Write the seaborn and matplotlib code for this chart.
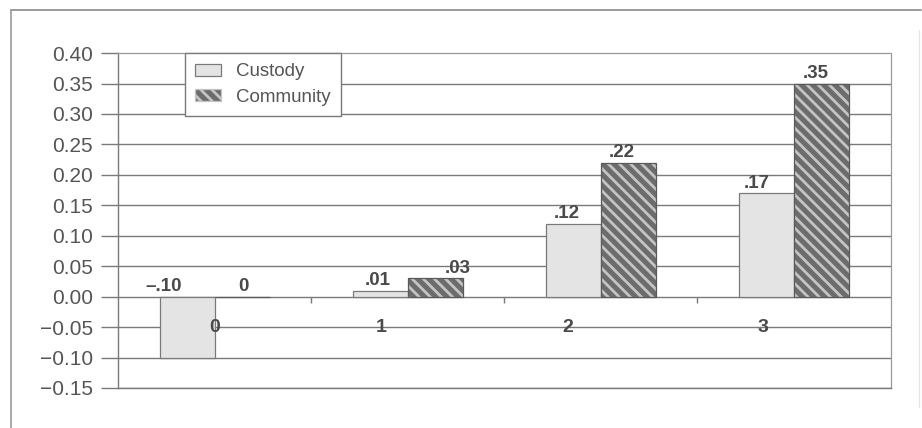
import numpy as np
import pandas as pd
import matplotlib
matplotlib.use("Agg")
import matplotlib.pyplot as plt
import seaborn as sns
from matplotlib.patches import Patch, Rectangle
from matplotlib.lines import Line2D

# ---- data ----
categories = ["0", "1", "2", "3"]
groups = ["Custody", "Community"]
custody = [-0.10, 0.01, 0.12, 0.17]
community = [0.00, 0.03, 0.22, 0.35]
ytick_values = [-0.15, -0.10, -0.05, 0.00, 0.05, 0.10, 0.15, 0.20, 0.25, 0.30, 0.35, 0.40]
ytick_labels = ["\u22120.15", "\u22120.10", "\u22120.05", "0.00", "0.05", "0.10",
                "0.15", "0.20", "0.25", "0.30", "0.35", "0.40"]

df = pd.DataFrame({
    "category": categories * 2,
    "group": [groups[0]] * len(categories) + [groups[1]] * len(categories),
    "value": custody + community,
})

# ---- style ----
sns.set_theme(style="white")
plt.rcParams["font.family"] = ["Liberation Sans", "DejaVu Sans"]
plt.rcParams["hatch.linewidth"] = 2.0

TEXT = "#4a4a4a"
LINE = "#7a7a7a"
CUSTODY_FACE = "#e4e4e4"
COMMUNITY_FACE = "#6c6c6c"
HATCH = "#c4c4c4"
HATCH_PATTERN = "\\\\\\"

fig = plt.figure(figsize=(9.22, 4.28), dpi=100)
ax = fig.add_axes([0.128, 0.0935, 0.838, 0.7825])

sns.barplot(data=df, x="category", y="value", hue="group", order=categories,
            hue_order=groups, palette=[CUSTODY_FACE, COMMUNITY_FACE],
            width=0.57, saturation=1, legend=False, ax=ax, zorder=3)

# custody bars: light fill with grey outline
for bar in ax.containers[0]:
    bar.set_edgecolor(LINE)
    bar.set_linewidth(0.9)

# community bars: light diagonal stripes on dark fill, with a grey outline on top
for bar in ax.containers[1]:
    bar.set_hatch(HATCH_PATTERN)
    bar.set_edgecolor(HATCH)
    bar.set_linewidth(0)
    ax.add_patch(Rectangle(bar.get_xy(), bar.get_width(), bar.get_height(),
                           fill=False, edgecolor="#5a5a5a", linewidth=0.9, zorder=4))

# ---- axes ----
ax.set_ylim(-0.15, 0.40)
ax.set_xlim(-0.5, len(categories) - 0.5)
ax.set_yticks(ytick_values)
ax.set_yticklabels(ytick_labels)
ax.set_xticks([])
ax.set_xlabel("")
ax.set_ylabel("")
ax.tick_params(axis="y", length=12, width=1, color=LINE, pad=6,
               labelsize=15, labelcolor="#555555", left=True)

# horizontal grid (solid) below the top edge
for v in ytick_values[:-1]:
    ax.axhline(v, color=LINE, linewidth=1, zorder=1)

for side in ("top", "right"):
    ax.spines[side].set_visible(True)
    ax.spines[side].set_color("#9a9a9a")
    ax.spines[side].set_linestyle((0, (1, 1)))
    ax.spines[side].set_linewidth(0.9)
ax.spines["left"].set_color(LINE)
ax.spines["left"].set_linewidth(1)
ax.spines["bottom"].set_color(LINE)
ax.spines["bottom"].set_linewidth(1)

# small separators between categories on the zero line
bounds = np.arange(len(categories) - 1) + 0.5
ax.vlines(bounds, -0.01, 0, color=LINE, linewidth=1, zorder=2)

# category names sit between the zero line and the -0.10 grid line
cat_nudge = [0.0, -0.135, -0.17, -0.16]
for i, (name, dx) in enumerate(zip(categories, cat_nudge)):
    ax.text(i + dx, -0.05, name, ha="center", va="center", fontsize=14,
            fontweight="bold", color=TEXT, zorder=5)


# ---- value labels ----
def fmt(v):
    if v == 0:
        return "0"
    s = f"{abs(v):.2f}".lstrip("0")
    return ("\u2013" if v < 0 else "") + s


label_nudge = {
    0: [-17, -2, -5, -7],   # custody, in points
    1: [1, 16, -5, -4],     # community, in points
}
for gi, (container, vals) in enumerate(zip(ax.containers, [custody, community])):
    for bi, (bar, v) in enumerate(zip(container, vals)):
        cx = bar.get_x() + bar.get_width() / 2
        ax.annotate(fmt(v), xy=(cx, max(v, 0)), xytext=(label_nudge[gi][bi], 4),
                    textcoords="offset points", ha="center", va="baseline",
                    fontsize=13.5, fontweight="bold", color=TEXT, zorder=6)

# ---- legend ----
handles = [
    Patch(facecolor=CUSTODY_FACE, edgecolor=LINE, linewidth=0.9, label=groups[0]),
    Patch(facecolor=COMMUNITY_FACE, edgecolor=HATCH, hatch=HATCH_PATTERN,
          linewidth=0.9, label=groups[1]),
]
leg = ax.legend(handles=handles, loc="upper left", bbox_to_anchor=(0.0867, 1.0),
                borderaxespad=0, fancybox=False, framealpha=1, edgecolor=LINE,
                fontsize=13.5, handlelength=1.35, handleheight=0.6,
                handletextpad=0.8, labelspacing=0.45, borderpad=0.55)
leg.get_frame().set_linewidth(1)
leg.set_zorder(10)
for t in leg.get_texts():
    t.set_color("#555555")

# ---- outer frame around the figure ----
fig.add_artist(Line2D([11 / 922, 921 / 922], [1 - 10 / 428, 1 - 10 / 428],
                      color="#8a8a8a", linewidth=1.2))
fig.add_artist(Line2D([11 / 922, 11 / 922], [0, 1 - 10 / 428],
                      color="#9a9a9a", linewidth=1.2))
fig.add_artist(Line2D([919 / 922, 919 / 922], [0.05, 1 - 30 / 428],
                      color="#e6e6e6", linewidth=1))

fig.savefig("out.png", dpi=100)
